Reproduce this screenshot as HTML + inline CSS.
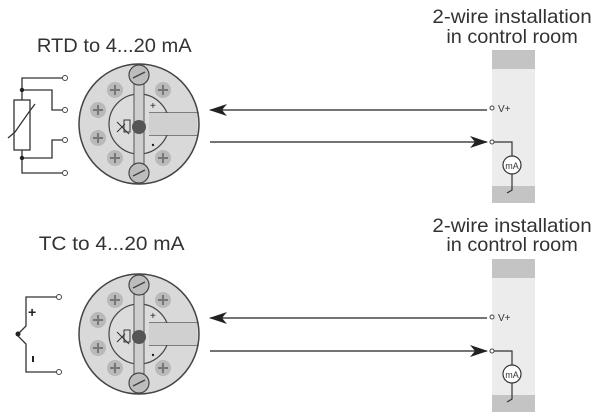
<!DOCTYPE html>
<html><head><style>
body{margin:0;background:#fff;}
svg{display:block;font-family:"Liberation Sans",sans-serif;}
</style></head><body>
<svg width="603" height="414" viewBox="0 0 603 414" xmlns="http://www.w3.org/2000/svg">
<defs>
<marker id="ah" markerWidth="18" markerHeight="12" refX="17" refY="6" orient="auto" markerUnits="userSpaceOnUse">
<path d="M0,0 L18,6 L0,12 L5,6 Z" fill="#222"/></marker>
<g id="tx">
<circle cx="0" cy="0" r="60" fill="#d9d9d9" stroke="#444" stroke-width="1.5"/>
<circle cx="0" cy="0" r="30" fill="#dcdcdc" stroke="#444" stroke-width="1.2"/>
<rect x="-5" y="-58" width="10" height="116" fill="#cfcfcf" stroke="#555" stroke-width="1"/>
<path d="M10,-11 L59,-11 M10,11 L59,11" stroke="#444" stroke-width="1.2" fill="none"/>
<rect x="10" y="-11" width="48" height="22" fill="#d0d0d0"/>
<circle cx="0" cy="-49" r="10" fill="#bdbdbd" stroke="#444" stroke-width="1.2"/>
<line x1="-6" y1="-46" x2="6" y2="-52" stroke="#444" stroke-width="1.5"/>
<circle cx="0" cy="49" r="10" fill="#bdbdbd" stroke="#444" stroke-width="1.2"/>
<line x1="-6" y1="52" x2="6" y2="46" stroke="#444" stroke-width="1.5"/>
<circle cx="0" cy="3" r="7" fill="#555"/>
<g fill="#b9b9b9">
<circle cx="-24" cy="-34" r="8"/><circle cx="24" cy="-34" r="8"/>
<circle cx="-41" cy="-14" r="8"/><circle cx="-41" cy="14" r="8"/>
<circle cx="-24" cy="34" r="8"/><circle cx="24" cy="34" r="8"/></g>
<g stroke="#777" stroke-width="2">
<path d="M-24,-39v10M-29,-34h10M24,-39v10M19,-34h10M-41,-19v10M-46,-14h10M-41,9v10M-46,14h10M-24,29v10M-29,34h10M24,29v10M19,34h10"/></g>
<rect x="-15" y="-4" width="6" height="12" fill="none" stroke="#333" stroke-width="1"/>
<path d="M-22,-2 L-10,10 M-22,8 L-14,0" stroke="#333" stroke-width="1"/>
<text x="11" y="-15" font-size="10" fill="#222">+</text>
<circle cx="14" cy="21" r="1.2" fill="#222"/>
</g>
</defs>
<g fill="#333" text-anchor="middle" font-size="19" transform="scale(0.9,1)">
<text x="127" y="52" textLength="172" lengthAdjust="spacingAndGlyphs">RTD to 4...20 mA</text>
<text x="124" y="250" textLength="162" lengthAdjust="spacingAndGlyphs">TC to 4...20 mA</text>
<text x="569" y="23" textLength="177" lengthAdjust="spacingAndGlyphs">2-wire installation</text>
<text x="569" y="43" textLength="146" lengthAdjust="spacingAndGlyphs">in control room</text>
<text x="569" y="232" textLength="177" lengthAdjust="spacingAndGlyphs">2-wire installation</text>
<text x="569" y="251" textLength="146" lengthAdjust="spacingAndGlyphs">in control room</text>
</g>
<use href="#tx" x="139" y="124"/>
<use href="#tx" x="139" y="334"/>
<!-- RTD -->
<g stroke="#333" stroke-width="1.3" fill="none">
<path d="M22,100 V78 H62 M22,90 H52 V110 H62 M22,150 V173 H62 M22,158 H52 V140 H62"/>
<rect x="14" y="100" width="16" height="50" fill="#fff"/>
<path d="M8,138 L15,132 L29,112 L35,104"/>
</g>
<g fill="#fff" stroke="#444" stroke-width="1"><circle cx="65" cy="78" r="2.5"/><circle cx="65" cy="110" r="2.5"/><circle cx="65" cy="140" r="2.5"/><circle cx="65" cy="173" r="2.5"/></g>
<circle cx="22" cy="90" r="2.2" fill="#222"/><circle cx="22" cy="158" r="2.2" fill="#222"/>
<!-- TC -->
<g stroke="#333" stroke-width="1.3" fill="none">
<path d="M57,297 H26 V326 L17,335 L26,344 V372 H57"/></g>
<circle cx="18" cy="334" r="2.5" fill="#222"/>
<text x="28" y="317" font-size="14" font-weight="bold" fill="#222">+</text>
<rect x="32" y="356" width="2" height="6" fill="#222"/>
<g fill="#fff" stroke="#444" stroke-width="1"><circle cx="59" cy="297" r="2.5"/><circle cx="59" cy="372" r="2.5"/></g>
<!-- arrows -->
<g stroke="#222" stroke-width="1.3">
<line x1="487" y1="110" x2="210" y2="110" marker-end="url(#ah)"/>
<line x1="210" y1="142" x2="487" y2="142" marker-end="url(#ah)"/>
<line x1="487" y1="318" x2="210" y2="318" marker-end="url(#ah)"/>
<line x1="210" y1="351" x2="487" y2="351" marker-end="url(#ah)"/>
</g>
<!-- control room boxes -->
<g id="cr">
<rect x="492" y="50" width="43" height="153" fill="#ececec"/>
<rect x="492" y="50" width="43" height="19" fill="#c4c4c4"/>
<rect x="492" y="186" width="43" height="17" fill="#c4c4c4"/>
<circle cx="492" cy="108" r="2" fill="#fff" stroke="#444"/>
<text x="498" y="112" font-size="10" fill="#333">V+</text>
<circle cx="492" cy="142" r="2" fill="#fff" stroke="#444"/>
<path d="M494,142 H512 V156 M512,174 V190 L507,193" stroke="#333" stroke-width="1.2" fill="none"/>
<circle cx="512" cy="165" r="9" fill="#fff" stroke="#333" stroke-width="1.2"/>
<text x="512" y="169" font-size="9" text-anchor="middle" fill="#333">mA</text>
</g>
<use href="#cr" x="0" y="209"/>
</svg>
</body></html>
